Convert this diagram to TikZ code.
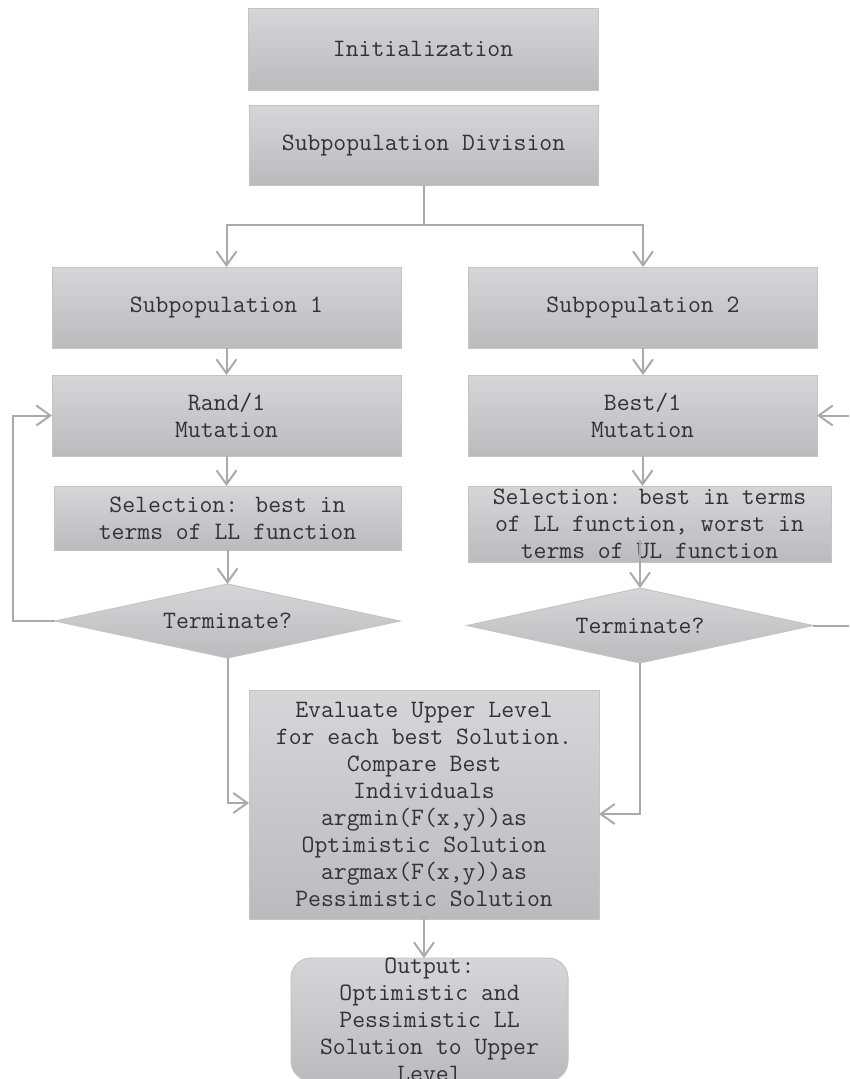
\documentclass[tikz,border=0pt]{standalone}
\usepackage{fontspec}
\usetikzlibrary{shapes.geometric,arrows.meta,calc}
\definecolor{boxtop}{RGB}{214,214,216}
\definecolor{boxbot}{RGB}{187,187,189}
\definecolor{edgec}{RGB}{196,196,198}
\definecolor{linec}{RGB}{170,170,172}
\definecolor{txtc}{RGB}{50,50,50}
\begin{document}
\begin{tikzpicture}[x=1pt,y=-1pt,
  box/.style={draw=edgec, line width=1pt, top color=boxtop, bottom color=boxbot,
    inner sep=0pt, outer sep=0pt, align=center, text=txtc,
    font=\fontsize{25}{27}\selectfont\ttfamily},
  dia/.style={box, diamond, aspect=4.66},
  lbl/.style={inner sep=0pt, align=center, text=txtc, font=\fontsize{25}{27}\selectfont\ttfamily},
  conn/.style={draw=linec, line width=2pt},
  arr/.style={conn, -{Straight Barb[length=14pt,width=20pt]}},
]
\useasboundingbox (0,0) rectangle (849,1079);
\clip (0,0) rectangle (849,1079);

\node[box, minimum width=350pt, minimum height=82pt] (init) at (423,49) {Initialization};
\node[box, minimum width=349pt, minimum height=80pt] (div) at (423.5,145) {Subpopulation Division};
\node[box, minimum width=349pt, minimum height=81pt] (sp1) at (226.5,307.5) {Subpopulation 1};
\node[box, minimum width=349pt, minimum height=81pt] (sp2) at (643,307.5) {Subpopulation 2};
\node[box, minimum width=349pt, minimum height=81pt] (rand) at (226.5,415.5) {Rand/1\\Mutation};
\node[box, minimum width=349pt, minimum height=81pt] (best) at (642.5,415.5) {Best/1\\Mutation};
\node[box, minimum width=347pt, minimum height=64pt] (selL) at (227.5,518) {Selection: best in\\terms of LL function};
\node[box, minimum width=363pt, minimum height=76pt] (selR) at (649.5,524) {Selection: best in terms\\of LL function, worst in\\terms of UL function};
\node[dia, minimum width=345pt, minimum height=74pt] (termL) at (227.5,621) {Terminate?};
\node[dia, minimum width=346pt, minimum height=75pt] (termR) at (640,625.5) {Terminate?};
\node[box, minimum width=350pt, minimum height=229pt] (eval) at (424,804.5) {Evaluate Upper Level\\for each best Solution.\\Compare Best\\Individuals\\argmin(F(x,y))as\\Optimistic Solution\\argmax(F(x,y))as\\Pessimistic Solution};
\node[box, rounded corners=20pt, minimum width=277pt, minimum height=123pt] (out) at (429.5,1019.5) {};
\node[lbl] (outtext) at (out.center) {Output:\\Optimistic and\\Pessimistic LL\\Solution to Upper\\Level};

\coordinate (split) at (div.south |- 0,225);
\coordinate (loopL) at (13,0);
\coordinate (loopR) at (855,0);
\coordinate (selRout) at (termR.north |- 0,540);

\draw[conn] (div.south) -- (split);
\draw[arr] (split) -| (sp1.north);
\draw[arr] (split) -| (sp2.north);
\draw[arr] (sp1.south) -- (sp1.south |- rand.north);
\draw[arr] (rand.south) -- (rand.south |- selL.north);
\draw[arr] (selL.south) -- (selL.south |- termL.north);
\draw[arr] (termL.west) -- (termL.west -| loopL) |- (rand.west);
\draw[arr] (termL.south) |- ([yshift=1.5pt]eval.west);
\draw[arr] (sp2.south) -- (sp2.south |- best.north);
\draw[arr] (best.south) -- (best.south |- selR.north);
\draw[arr] (selRout) -- (termR.north);
\draw[arr] (termR.east) -- (termR.east -| loopR) |- (best.east);
\draw[arr] (termR.south) |- ([yshift=-9.5pt]eval.east);
\draw[arr] (eval.south) -- (eval.south |- out.north);
\end{tikzpicture}
\end{document}
